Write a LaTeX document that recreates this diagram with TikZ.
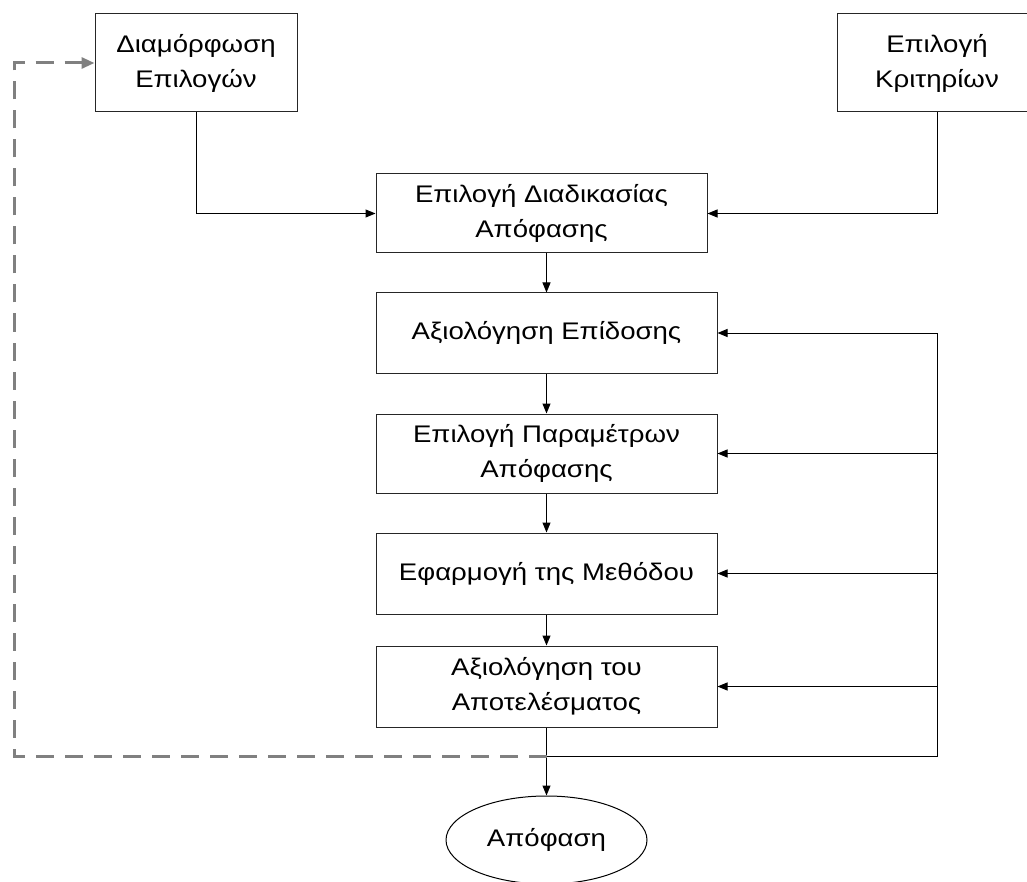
\documentclass[tikz,border=0pt]{standalone}
\usepackage{fontspec}
\setmainfont{Liberation Sans}
\newfontfamily\diagfont[FakeStretch=1.15]{Liberation Sans}
\usetikzlibrary{arrows.meta,shapes.geometric}
\begin{document}
\begin{tikzpicture}[x=1pt,y=-1pt,
  txt/.style={font=\diagfont\fontsize{24}{35}\selectfont},
  box/.style={txt,draw=black!85,line width=1pt,inner sep=0pt,align=center},
  conn/.style={draw=black,line width=1pt,-{Triangle[length=10pt,width=8pt]}},
  plain/.style={draw=black,line width=1pt},
  feedback/.style={draw=black!50,line width=3pt,dash pattern=on 18pt off 11pt,
    -{Triangle[length=13pt,width=11pt]}}]
\useasboundingbox (0,0) rectangle (1027,882);
\node[box,minimum width=202,minimum height=98] (opt) at (196,63) {Διαμόρφωση\\Επιλογών};
\node[box,minimum width=200,minimum height=98] (crit) at (937,63) {Επιλογή\\Κριτηρίων};
\node[box,minimum width=331,minimum height=79] (b1) at (541.5,213.5) {Επιλογή Διαδικασίας\\Απόφασης};
\node[box,minimum width=341,minimum height=80] (b2) at (546.5,333) {Αξιολόγηση Επίδοσης};
\node[box,minimum width=341,minimum height=79] (b3) at (546.5,453.5) {Επιλογή Παραμέτρων\\Απόφασης};
\node[box,minimum width=341,minimum height=81] (b4) at (546.5,573.5) {Εφαρμογή της Μεθόδου};
\node[box,minimum width=341,minimum height=81] (b5) at (546.5,686.5) {Αξιολόγηση του\\Αποτελέσματος};
\node[txt,draw=black,line width=1pt,ellipse,minimum width=201,minimum height=88,inner sep=0pt] (dec) at (546.5,840) {Απόφαση};
\coordinate (busT) at (937,333);
\coordinate (busB) at (937,756);
\coordinate (dl) at (14,756);
\draw[conn] (opt.south) |- (b1.west);
\draw[conn] (crit.south) |- (b1.east);
\draw[conn] (b1.south -| b2.north) -- (b2.north);
\draw[conn] (b2.south) -- (b3.north);
\draw[conn] (b3.south) -- (b4.north);
\draw[conn] (b4.south) -- (b5.north);
\draw[conn] (b5.south) -- (dec.north);
\draw[plain] (busT) -- (busB) -- (busB -| b5.south);
\draw[conn] (busT) -- (b2.east);
\draw[conn] (b3.east -| busT) -- (b3.east);
\draw[conn] (b4.east -| busT) -- (b4.east);
\draw[conn] (b5.east -| busT) -- (b5.east);
\draw[feedback] (busB -| b5.south) -- (dl) |- (opt.west);
\end{tikzpicture}
\end{document}
